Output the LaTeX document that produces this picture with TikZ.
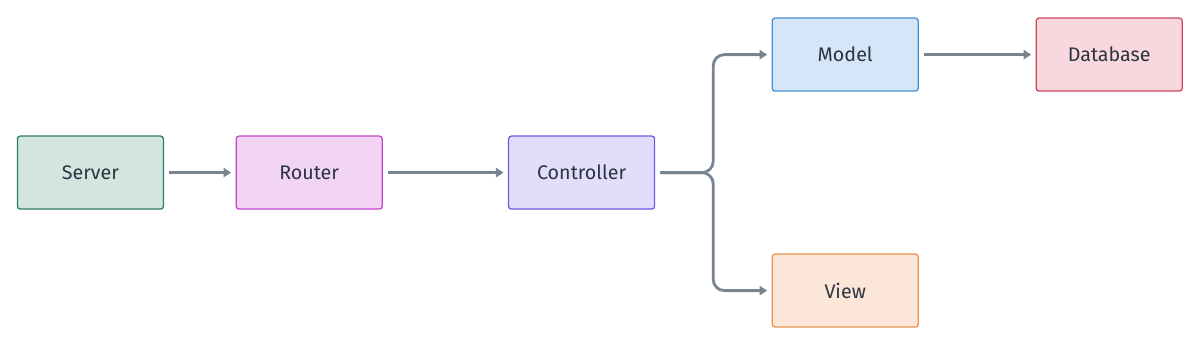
\documentclass[tikz,border=0pt]{standalone}
\usepackage{fontspec}
\setmainfont{Fira Sans}
\usepackage{tikz}
\usetikzlibrary{arrows.meta,positioning}

\definecolor{inktext}{HTML}{2B3440}
\definecolor{arrowgray}{HTML}{78848F}
\definecolor{srvfill}{HTML}{D2E5DF}\definecolor{srvline}{HTML}{2F7D68}
\definecolor{rtrfill}{HTML}{F2D4F3}\definecolor{rtrline}{HTML}{C044CB}
\definecolor{ctlfill}{HTML}{E1DDFB}\definecolor{ctlline}{HTML}{7257DE}
\definecolor{mdlfill}{HTML}{D4E6F7}\definecolor{mdlline}{HTML}{4A8FD6}
\definecolor{dbfill}{HTML}{F8D8DE}\definecolor{dbline}{HTML}{CF4459}
\definecolor{vwfill}{HTML}{FBE6D8}\definecolor{vwline}{HTML}{E8924F}

\begin{document}
\begin{tikzpicture}[
  font=\fontsize{14}{16}\selectfont,
  box/.style={rounded corners=2pt, line width=0.9pt, minimum width=3.65cm,
              minimum height=1.825cm, text=inktext, align=center},
  ar/.style={-{Triangle[length=1.9mm,width=2.3mm]}, draw=arrowgray,
             line width=2pt, shorten <=1.3mm, shorten >=1.1mm}]

\useasboundingbox (0,0) rectangle (30,8.625);

% main row
\node[box, fill=srvfill, draw=srvline] (server) at (2.26,4.31)  {Server};
\node[box, fill=rtrfill, draw=rtrline] (router) at (7.73,4.31)  {Router};
\node[box, fill=ctlfill, draw=ctlline] (ctrl)   at (14.54,4.31) {Controller};
\draw[ar] (server) -- (router);
\draw[ar] (router) -- (ctrl);

% split to model and view
\node[box, fill=mdlfill, draw=mdlline] (model) at (21.13,7.26) {Model};
\node[box, fill=vwfill,  draw=vwline]  (view)  at (21.13,1.36) {View};
\node[box, fill=dbfill,  draw=dbline]  (db)    at (27.73,7.26) {Database};
\coordinate (split) at (17.83,4.31);
\draw[ar, rounded corners=8pt] (ctrl.east) -- (split) |- (model.west);
\draw[ar, rounded corners=8pt] (ctrl.east) -- (split) |- (view.west);
\draw[ar] (model) -- (db);
\end{tikzpicture}
\end{document}
